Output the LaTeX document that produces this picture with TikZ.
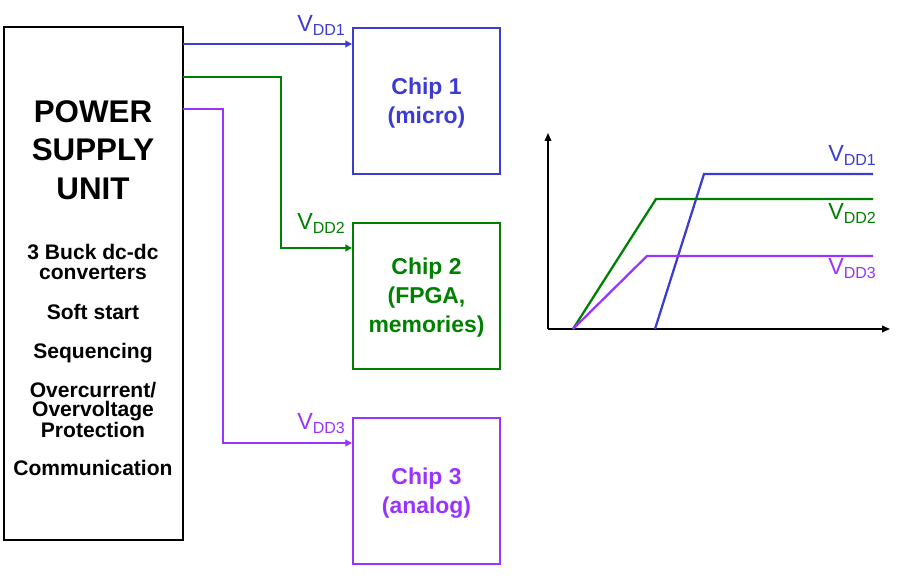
\documentclass[tikz,border=0pt]{standalone}
\usepackage{fontspec}
\setmainfont{Liberation Sans}
\usetikzlibrary{arrows.meta}

\definecolor{vddone}{RGB}{60,60,210}
\definecolor{vddtwo}{RGB}{0,128,0}
\definecolor{vddthree}{RGB}{153,51,255}

\newcommand{\vddlabel}[1]{{\fontsize{17.5}{17.5}\selectfont V}\raisebox{-3pt}{\fontsize{12}{12}\selectfont DD#1}}

\begin{document}
\begin{tikzpicture}[x=0.75pt,y=0.75pt,yscale=-1,xscale=1,
  rail/.style={line width=1.7pt,-{Triangle[length=5pt,width=5pt]}},
  chipbox/.style={draw,line width=1.7pt,minimum width=110pt,minimum height=109.5pt,inner sep=0pt,align=center,font=\fontsize{17.2}{21.8}\selectfont\bfseries},
  psuitem/.style={align=center,font=\fontsize{15.8}{14.5}\selectfont\bfseries},
  axis/.style={line width=1pt,-{Triangle[length=6pt,width=5pt]}},
  curve/.style={line width=1.7pt}]
\useasboundingbox (0,0) rectangle (900,580);

% power supply unit
\node (psu) at (93.5,283.5) [draw,line width=2pt,minimum width=134.25pt,minimum height=384.75pt,inner sep=0pt] {};
\node (title) at (93,150) [align=center,font=\fontsize{23.5}{29}\selectfont\bfseries] {POWER\\SUPPLY\\UNIT};
\node (buck) at (93,262) [psuitem] {3 Buck dc-dc\\converters};
\node (soft) at (93,311.5) [psuitem] {Soft start};
\node (seq) at (93,353) [psuitem] {Sequencing};
\node (prot) at (93,410) [psuitem] {Overcurrent/\\Overvoltage\\Protection};
\node (comm) at (93,467.5) [psuitem] {Communication};

% chips
\node (chip1) at (426.5,101) [chipbox,vddone] {\rule{0pt}{15pt}Chip 1\\(micro)};
\node (chip2) at (426.5,296) [chipbox,vddtwo] {\rule{0pt}{15pt}Chip 2\\(FPGA,\\memories)};
\node (chip3) at (426.5,491) [chipbox,vddthree] {\rule{0pt}{15pt}Chip 3\\(analog)};

% supply rails
\coordinate (t1) at (183,44);
\coordinate (t2) at (183,77);
\coordinate (t3) at (183,109);
\coordinate (b2) at (281,248);
\coordinate (b3) at (223,443);
\draw [rail,vddone] (t1) -- (t1 -| chip1.west);
\draw [rail,vddtwo] (t2) -| (b2) -- (b2 -| chip2.west);
\draw [rail,vddthree] (t3) -| (b3) -- (b3 -| chip3.west);

% Text Node
\node (l1) at (297,32) [anchor=base west,inner sep=0pt,vddone] {\vddlabel{1}};
\node (l2) at (297,230) [anchor=base west,inner sep=0pt,vddtwo] {\vddlabel{2}};
\node (l3) at (297,430) [anchor=base west,inner sep=0pt,vddthree] {\vddlabel{3}};

% power-up sequence
\coordinate (O) at (548,329);
\draw [axis] (O) -- (548,133);
\draw [axis] (O) -- (890,329);
\draw [curve,vddone] (655,329) -- (704,174) -- (873,174);
\draw [curve,vddtwo] (573,329) -- (656,199) -- (873,199);
\draw [curve,vddthree] (573,329) -- (647,256) -- (873,256);

% Text Node
\node (g1) at (828,162) [anchor=base west,inner sep=0pt,vddone] {\vddlabel{1}};
\node (g2) at (828,220) [anchor=base west,inner sep=0pt,vddtwo] {\vddlabel{2}};
\node (g3) at (828,275) [anchor=base west,inner sep=0pt,vddthree] {\vddlabel{3}};
\end{tikzpicture}
\end{document}
